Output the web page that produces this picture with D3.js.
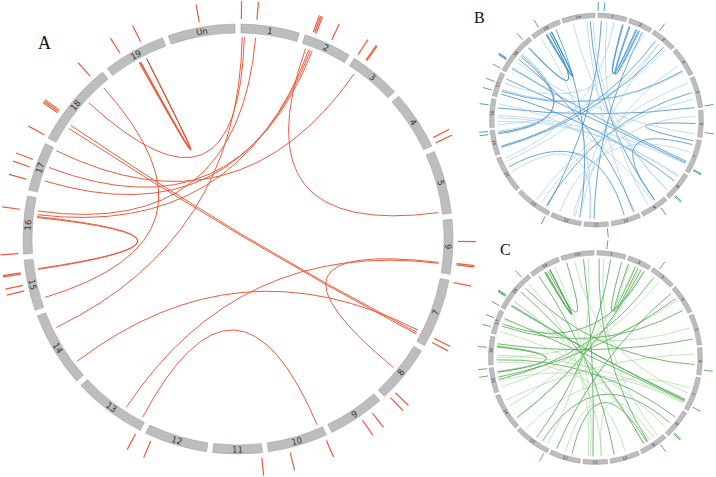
<!DOCTYPE html>
<html>
<head>
<meta charset="utf-8">
<script src="https://cdn.jsdelivr.net/npm/d3@7"></script>
<style>
  body { margin: 0; background: #fff; }
</style>
</head>
<body>
<script>
// chromosomes and their lengths (Mb)
const chromosomes = ['1', '2', '3', '4', '5', '6', '7', '8', '9', '10',
    '11', '12', '13', '14', '15', '16', '17', '18', '19', 'Un'];
const chrLengths = [23.7, 19.4, 21.0, 24.0, 25.7, 22.1, 28.1, 23.6, 23.1, 24.2,
    20.0, 25.5, 30.0, 30.6, 20.6, 23.4, 19.8, 34.4, 25.4, 27.2];

// links: [chrA, posA, chrB, posB]
const linksA = [
    ['19', 12.3, '19', 15.9], ['19', 12.55, '19', 15.9], ['19', 12.8, '19', 15.9], ['19', 13.05, '19', 15.9],
    ['16', 15.2, '15', 16.1], ['16', 15.6, '15', 16.4],
    ['2', 2.0, '5', 24.8],
    ['6', 17.9, '8', 12.3],
    ['13', 1.7, '10', 1.8],
    ['13', 9.8, '6', 18.3],
    ['14', 6.2, '7', 23.7],
    ['18', 9.3, '7', 24.8], ['18', 7.8, '7', 25.5],
    ['14', 23.1, '1', 0.6],
    ['15', 3.8, '18', 30.6],
    ['16', 18.0, '1', 6.3],
    ['16', 16.4, '2', 3.5],
    ['17', 5.3, '2', 4.2],
    ['17', 11.3, '2', 5.0],
    ['17', 19.1, '3', 3.6],
    ['18', 21.6, '1', 1.5]
];

// links: [chrA, posA, chrB, posB, strong]
const linksB = [
    ['19', 10.2, '19', 15.6, 1], ['19', 10.8, '19', 15.6, 1], ['19', 11.4, '19', 15.6, 1],
    ['18', 28.0, '19', 13.8, 1], ['18', 28.6, '19', 13.8, 1],
    ['1', 21.6, '2', 8.0, 1], ['1', 22.4, '2', 8.8, 1], ['2', 1.5, '2', 10.4, 1], ['2', 2.4, '2', 11.4, 1],
    ['4', 17.8, '17', 5.5, 1], ['4', 18.4, '17', 6.3, 0], ['4', 19.0, '17', 7.1, 0],
    ['16', 16.5, '5', 25.3, 1],
    ['6', 11.0, '7', 1.6, 1],
    ['18', 5.0, '7', 20.5, 1], ['18', 6.0, '7', 21.2, 0], ['17', 17.0, '7', 22.0, 1], ['16', 10.0, '7', 23.0, 0],
    ['15', 17.0, '18', 18.0, 1], ['15', 18.2, '18', 19.6, 1], ['15', 19.4, '18', 21.2, 0],
    ['Un', 20.0, '10', 4.0, 0], ['Un', 23.0, '9', 8.0, 1], ['1', 3.0, '13', 4.0, 1], ['1', 8.0, '9', 15.0, 0],
    ['Un', 25.5, '8', 20.0, 0], ['3', 6.0, '15', 6.0, 1], ['3', 10.0, '12', 6.0, 0],
    ['12', 8.0, '6', 5.0, 0], ['13', 5.0, '5', 12.0, 1], ['12', 20.0, '7', 12.0, 0], ['13', 15.0, '5', 3.0, 0],
    ['16', 5.0, '8', 4.0, 0], ['17', 3.0, '8', 10.0, 1], ['14', 25.0, '3', 10.0, 0], ['15', 5.0, '3', 15.0, 1],
    ['9', 10.0, '16', 20.0, 0], ['8', 5.0, '16', 8.0, 0], ['10', 12.0, '14', 20.0, 1], ['19', 5.0, '11', 16.0, 0],
    ['7', 5.0, '9', 8.0, 1], ['2', 14.0, '11', 12.0, 1], ['19', 20.0, '12', 2.0, 1], ['Un', 8.0, '8', 20.0, 0],
    ['14', 15.0, '11', 15.0, 0], ['12', 2.0, '4', 12.0, 0], ['18', 12.0, '6', 20.0, 0], ['16', 2.0, '3', 18.0, 0],
    ['1', 14.0, '14', 28.0, 0], ['5', 18.0, '13', 10.0, 0], ['18', 15.0, '10', 3.0, 1], ['17', 13.0, '2', 16.0, 0]
];

const linksC = [
    ['19', 9.8, '19', 15.0, 1], ['19', 10.4, '19', 15.0, 1], ['19', 11.0, '19', 15.0, 1],
    ['19', 13.0, 'Un', 3.0, 1],
    ['1', 21.8, '2', 8.5, 1], ['2', 1.8, '2', 10.8, 1], ['2', 3.0, '2', 12.0, 0],
    ['16', 15.2, '15', 16.1, 1], ['16', 15.8, '15', 16.6, 1], ['16', 16.4, '15', 17.1, 0],
    ['18', 5.0, '7', 21.0, 1], ['18', 6.0, '7', 21.8, 1], ['17', 15.0, '7', 22.6, 1], ['16', 8.0, '7', 23.6, 0], ['15', 9.0, '7', 24.5, 0],
    ['12', 8.0, '9', 15.0, 1], ['12', 14.0, '10', 10.0, 0], ['11', 5.0, '9', 8.0, 0], ['13', 8.0, '8', 15.0, 1],
    ['Un', 18.0, '11', 12.0, 1], ['Un', 22.0, '13', 3.0, 0], ['1', 2.0, '9', 14.0, 1], ['1', 6.0, '9', 4.0, 0],
    ['2', 14.0, '14', 6.0, 1], ['3', 5.0, '15', 10.0, 1], ['3', 11.0, '15', 3.0, 0], ['4', 10.0, '16', 6.0, 0],
    ['4', 20.0, '17', 8.0, 1], ['5', 10.0, '17', 14.0, 0], ['5', 20.0, '16', 18.0, 1], ['6', 5.0, '14', 24.0, 0],
    ['6', 14.0, '18', 25.0, 1], ['7', 10.0, '13', 26.0, 0], ['8', 8.0, '16', 4.0, 1], ['9', 18.0, '18', 10.0, 0],
    ['10', 20.0, '19', 4.0, 1], ['11', 16.0, '18', 30.0, 0], ['13', 14.0, '1', 12.0, 1], ['14', 5.0, '2', 16.0, 0],
    ['15', 12.0, '4', 8.0, 1], ['17', 3.0, '8', 20.0, 0], ['18', 20.0, '9', 18.0, 1], ['19', 20.0, '11', 14.0, 0],
    ['Un', 10.0, '7', 15.0, 0], ['12', 22.0, '4', 2.0, 1], ['14', 18.0, '2', 8.0, 0], ['16', 2.0, '9', 12.0, 0],
    ['17', 10.0, '2', 17.0, 1], ['18', 10.0, '11', 4.0, 0]
];

// outer tick marks: [chr, pos]
const ticksA = [
    ['Un', 13.2], ['19', 16.8], ['19', 7.6], ['18', 29.7], ['18', 10.5], ['18', 11.1], ['18', 11.7],
    ['18', 0.5], ['17', 12.0], ['17', 8.9], ['17', 3.9], ['16', 17.7], ['16', 0.3],
    ['15', 15.3], ['15', 15.8], ['15', 10.8], ['15', 8.6], ['13', 1.1], ['12', 22.4], ['11', 0.5],
    ['10', 15.8], ['10', 0.9], ['9', 10.2], ['9', 5.4], ['8', 22.1], ['8', 19.4],
    ['7', 23.7], ['7', 25.5], ['7', 0.6], ['6', 17.6], ['6', 18.1], ['6', 8.9],
    ['4', 21.3], ['4', 23.6], ['3', 0.5], ['3', 4.2], ['3', 4.6], ['2', 10.5],
    ['2', 2.7], ['2', 3.3], ['2', 3.9], ['1', 6.2], ['1', 0.1]
];
const ticksB = [
    ['1', 0.1], ['1', 4.8], ['3', 3.8], ['5', 24.8], ['6', 18.0], ['7', 24.1], ['7', 24.9],
    ['8', 18.5], ['8', 19.4], ['9', 7.5], ['11', 1.2], ['13', 1.5], ['15', 17.5], ['15', 20.0],
    ['16', 18.0], ['17', 4.2], ['17', 11.3], ['18', 0.6], ['18', 8.6], ['18', 9.2], ['18', 9.8],
    ['18', 29.2], ['19', 8.2]
];
const ticksC = [
    ['1', 7.8], ['3', 4.8], ['6', 18.0], ['7', 24.1], ['8', 18.5], ['8', 19.4], ['9', 6.8],
    ['13', 2.0], ['15', 14.5], ['15', 20.2], ['16', 14.1], ['17', 4.8], ['17', 12.3],
    ['18', 0.6], ['18', 9.2], ['18', 9.8], ['18', 10.4], ['18', 29.1]
];

const width = 716;
const height = 477;
const gap = 1.6 * Math.PI / 180;

const svg = d3.select('body').append('svg')
    .attr('width', width)
    .attr('height', height)
    .attr('viewBox', [0, 0, width, height]);

// one angle scale per chromosome
const total = d3.sum(chrLengths);
const k = (2 * Math.PI - chromosomes.length * gap) / total;
const chrScale = {};
let acc = gap / 2;
chromosomes.forEach((c, i) => {
    const a0 = acc;
    const a1 = acc + chrLengths[i] * k;
    chrScale[c] = d3.scaleLinear().domain([0, chrLengths[i]]).range([a0, a1]);
    acc = a1 + gap;
});

const polar = (a, r) => [Math.sin(a) * r, -Math.cos(a) * r];

const drawPanel = function(cx, cy, o, links, ticks, colors) {
    const g = svg.append('g').attr('transform', `translate(${cx},${cy})`);

    // links (quadratic bezier through the centre)
    g.append('g')
        .attr('fill', 'none')
        .selectAll('path')
        .data(links)
        .join('path')
        .attr('d', d => {
            const [x0, y0] = polar(chrScale[d[0]](d[1]), o.linkR);
            const [x1, y1] = polar(chrScale[d[2]](d[3]), o.linkR);
            const p = d3.path();
            p.moveTo(x0, y0);
            p.quadraticCurveTo(0, 0, x1, y1);
            return p.toString();
        })
        .attr('stroke', d => (d[4] === 0 ? colors.light : colors.dark))
        .attr('stroke-width', d => (d[4] === 0 ? o.lw * 0.85 : o.lw));

    // chromosome ring
    const arc = d3.arc().innerRadius(o.r0).outerRadius(o.r1);
    g.append('g')
        .selectAll('path')
        .data(chromosomes)
        .join('path')
        .attr('d', c => arc({ startAngle: chrScale[c].range()[0], endAngle: chrScale[c].range()[1] }))
        .attr('fill', '#bdbdbd')
        .attr('stroke', '#9b9b9b')
        .attr('stroke-width', 0.5);

    // chromosome labels
    g.append('g')
        .selectAll('text')
        .data(chromosomes)
        .join('text')
        .attr('transform', c => {
            const a = d3.mean(chrScale[c].range());
            const [x, y] = polar(a, (o.r0 + o.r1) / 2);
            let deg = a * 180 / Math.PI;
            deg = (deg > 90 && deg < 270) ? deg - 180 : (deg >= 270 ? deg - 360 : deg);
            return `translate(${x},${y}) rotate(${deg})`;
        })
        .attr('text-anchor', 'middle')
        .attr('dy', '0.35em')
        .attr('font-family', 'DejaVu Sans, sans-serif')
        .attr('font-size', o.fs)
        .attr('fill', '#333')
        .text(c => c);

    // outer ticks
    g.append('g')
        .attr('stroke', colors.dark)
        .attr('stroke-width', o.tw)
        .selectAll('line')
        .data(ticks)
        .join('line')
        .attr('x1', d => polar(chrScale[d[0]](d[1]), o.t0)[0])
        .attr('y1', d => polar(chrScale[d[0]](d[1]), o.t0)[1])
        .attr('x2', d => polar(chrScale[d[0]](d[1]), o.t1)[0])
        .attr('y2', d => polar(chrScale[d[0]](d[1]), o.t1)[1]);
};

const big = { r0: 206, r1: 215, linkR: 202, t0: 220, t1: 238, fs: 8.5, lw: 1, tw: 1.2 };
const small = { r0: 102.5, r1: 107, linkR: 99, t0: 109, t1: 118, fs: 4, lw: 0.8, tw: 0.9 };

drawPanel(238, 239, big, linksA, ticksA, { dark: '#ef5b3c', light: '#ef5b3c' });
drawPanel(596.5, 120, small, linksB, ticksB, { dark: '#3f8fcb', light: '#a3cbe8' });
drawPanel(595.5, 357.5, small, linksC, ticksC, { dark: '#4aa74a', light: '#a5d89f' });

// panel letters
svg.append('g')
    .attr('font-family', 'Liberation Serif, serif')
    .attr('fill', '#111')
    .selectAll('text')
    .data([['A', 38, 49, 18], ['B', 474, 23, 16], ['C', 500, 255, 16]])
    .join('text')
    .attr('x', d => d[1])
    .attr('y', d => d[2])
    .attr('font-size', d => d[3])
    .text(d => d[0]);
</script>
</body>
</html>
